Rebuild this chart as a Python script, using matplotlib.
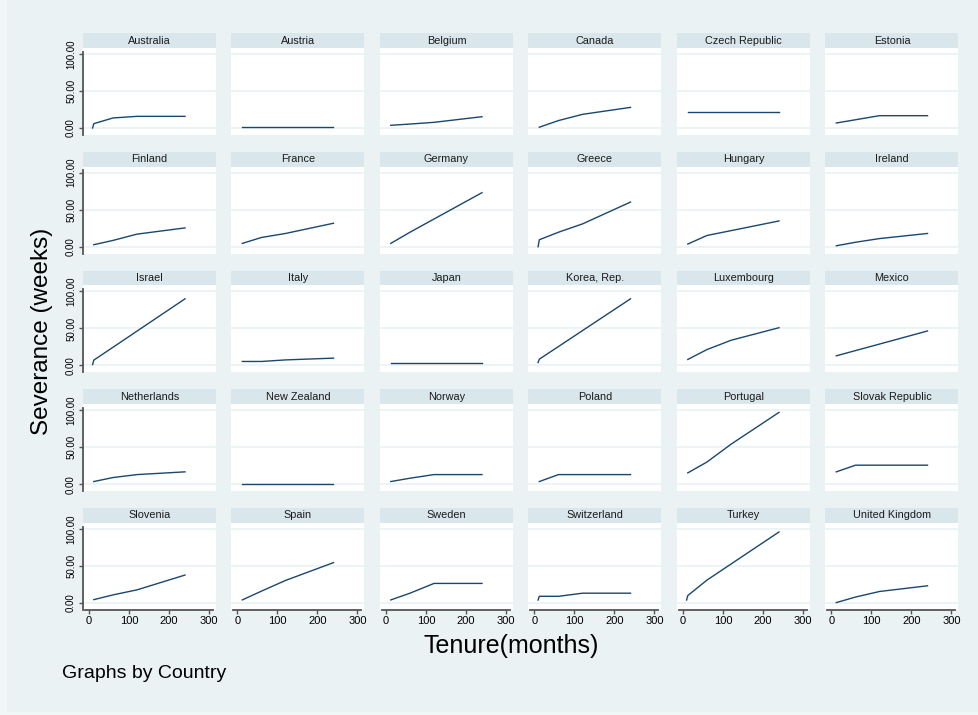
import numpy as np
import matplotlib
matplotlib.use("Agg")
import matplotlib.pyplot as plt

plt.rcParams['font.family'] = ['Liberation Sans', 'DejaVu Sans']

nan = np.nan

# tenure in months at which severance is recorded
tenure = [9, 12, 60, 120, 240]

countries = ["Australia", "Austria", "Belgium", "Canada", "Czech Republic", "Estonia",
             "Finland", "France", "Germany", "Greece", "Hungary", "Ireland",
             "Israel", "Italy", "Japan", "Korea, Rep.", "Luxembourg", "Mexico",
             "Netherlands", "New Zealand", "Norway", "Poland", "Portugal", "Slovak Republic",
             "Slovenia", "Spain", "Sweden", "Switzerland", "Turkey", "United Kingdom"]

# severance in weeks, one list per country (values at the tenure points above)
severance = [
    [0, 5.8, 13.5, 15.7, 15.7],      # Australia
    [nan, 1.5, 1.5, 1.5, 1.5],       # Austria
    [nan, 3.6, 5.3, 7.6, 15.2],      # Belgium
    [nan, 1.0, 10.0, 18.4, 27.8],    # Canada
    [nan, 21.4, 21.4, 21.4, 21.4],   # Czech Republic
    [nan, 6.7, 11.1, 16.6, 16.6],    # Estonia
    [nan, 2.7, 8.5, 17.0, 25.4],     # Finland
    [nan, 4.5, 12.5, 17.9, 31.7],    # France
    [nan, 4.5, 19.6, 37.4, 73.0],    # Germany
    [0, 9.4, 19.6, 30.8, 60.3],      # Greece
    [nan, 3.6, 15.2, 21.7, 34.8],    # Hungary
    [nan, 1.3, 6.0, 11.0, 17.9],     # Ireland
    [1.3, 7.2, 24.6, 46.4, 90.0],    # Israel
    [nan, 5.4, 5.4, 7.5, 9.9],       # Italy
    [nan, 3.6, 3.6, 3.6, 3.6],       # Japan
    [4.0, 8.5, 25.6, 47.1, 90.0],    # Korea, Rep.
    [nan, 8.1, 21.5, 34.0, 51.0],    # Luxembourg
    [nan, 13.0, 20.1, 28.9, 46.6],   # Mexico
    [nan, 3.6, 9.0, 13.0, 16.7],     # Netherlands
    [nan, 0, 0, 0, 0],               # New Zealand
    [nan, 3.6, 8.1, 13.0, 13.0],     # Norway
    [nan, 3.6, 13.0, 13.0, 13.0],    # Poland
    [nan, 15.3, 30.0, 54.0, 97.0],   # Portugal
    [nan, 16.7, 25.7, 25.7, 25.7],   # Slovak Republic
    [nan, 4.5, 10.9, 17.7, 37.7],    # Slovenia
    [nan, 4.1, 16.0, 30.4, 54.5],    # Spain
    [nan, 4.1, 13.2, 26.4, 26.4],    # Sweden
    [4.0, 9.0, 9.0, 13.2, 13.2],     # Switzerland
    [4.0, 10.0, 30.9, 52.6, 95.9],   # Turkey
    [nan, 0.5, 8.0, 15.5, 23.2],     # United Kingdom
]

yticks = [0, 50, 100]
yticklabels = ["0.00", "50.00", "100.00"]
xticks = [0, 100, 200, 300]

W, H = 979, 715
bg = "#eaf2f3"
strip_col = "#d9e6eb"
line_col = "#1a476f"
axis_col = "#555555"

fig = plt.figure(figsize=(W / 100, H / 100), dpi=100, facecolor=bg)
# lighter outer margin on the left and bottom edges
fig.patches.append(plt.Rectangle((0, 0), 7 / W, 1, transform=fig.transFigure,
                                 facecolor="#f1f6f7", edgecolor="none"))
fig.patches.append(plt.Rectangle((0, 0), 1, 3 / H, transform=fig.transFigure,
                                 facecolor="#f1f6f7", edgecolor="none"))

for i, name in enumerate(countries):
    r, c = divmod(i, 6)
    left = 83 + c * 148.5
    top = 33 + r * 118.75

    # title strip
    sax = fig.add_axes([left / W, 1 - (top + 15) / H, 133 / W, 15 / H])
    sax.set_facecolor(strip_col)
    sax.set_xticks([])
    sax.set_yticks([])
    for s in sax.spines.values():
        s.set_visible(False)
    sax.text(0.5, 0.5, name, ha="center", va="center", fontsize=7.8,
             color="#1a1a1a", transform=sax.transAxes)

    ax = fig.add_axes([left / W, 1 - (top + 102) / H, 133 / W, 87 / H])
    ax.set_facecolor("white")
    ax.plot(tenure, severance[i], color=line_col, lw=1.0)
    ax.set_xlim(-15, 317.5)
    ax.set_ylim(-9.5, 108)
    ax.set_yticks(yticks)
    ax.set_xticks(xticks)
    ax.yaxis.grid(True, color=bg, lw=1.2)
    ax.set_axisbelow(True)

    for s in ax.spines.values():
        s.set_visible(False)

    if c == 0:
        ax.spines["left"].set_visible(True)
        ax.spines["left"].set_color(axis_col)
        ax.spines["left"].set_linewidth(1.3)
        ax.spines["left"].set_bounds(-9.5, 103)
        ax.set_yticklabels(yticklabels, rotation=90, va="center", fontsize=7)
        ax.tick_params(axis="y", length=3, width=1, color=axis_col, pad=2)
    else:
        ax.tick_params(axis="y", left=False, labelleft=False)

    if r == 4:
        ax.spines["bottom"].set_visible(True)
        ax.spines["bottom"].set_color(axis_col)
        ax.spines["bottom"].set_linewidth(1.3)
        ax.spines["bottom"].set_bounds(-10, 310)
        ax.set_xticklabels([str(t) for t in xticks], fontsize=8)
        ax.tick_params(axis="x", length=3, width=1, color=axis_col, pad=1.5)
    else:
        ax.tick_params(axis="x", bottom=False, labelbottom=False)

fig.text(42 / W, 1 - 331 / H, "Severance (weeks)", rotation=90, ha="center",
         va="center", fontsize=17.5)
fig.text(511 / W, 1 - 646 / H, "Tenure(months)", ha="center", va="center",
         fontsize=18)
fig.text(62 / W, 1 - 673 / H, "Graphs by Country", ha="left", va="center",
         fontsize=14)

fig.savefig("out.png", dpi=100, facecolor=fig.get_facecolor())
